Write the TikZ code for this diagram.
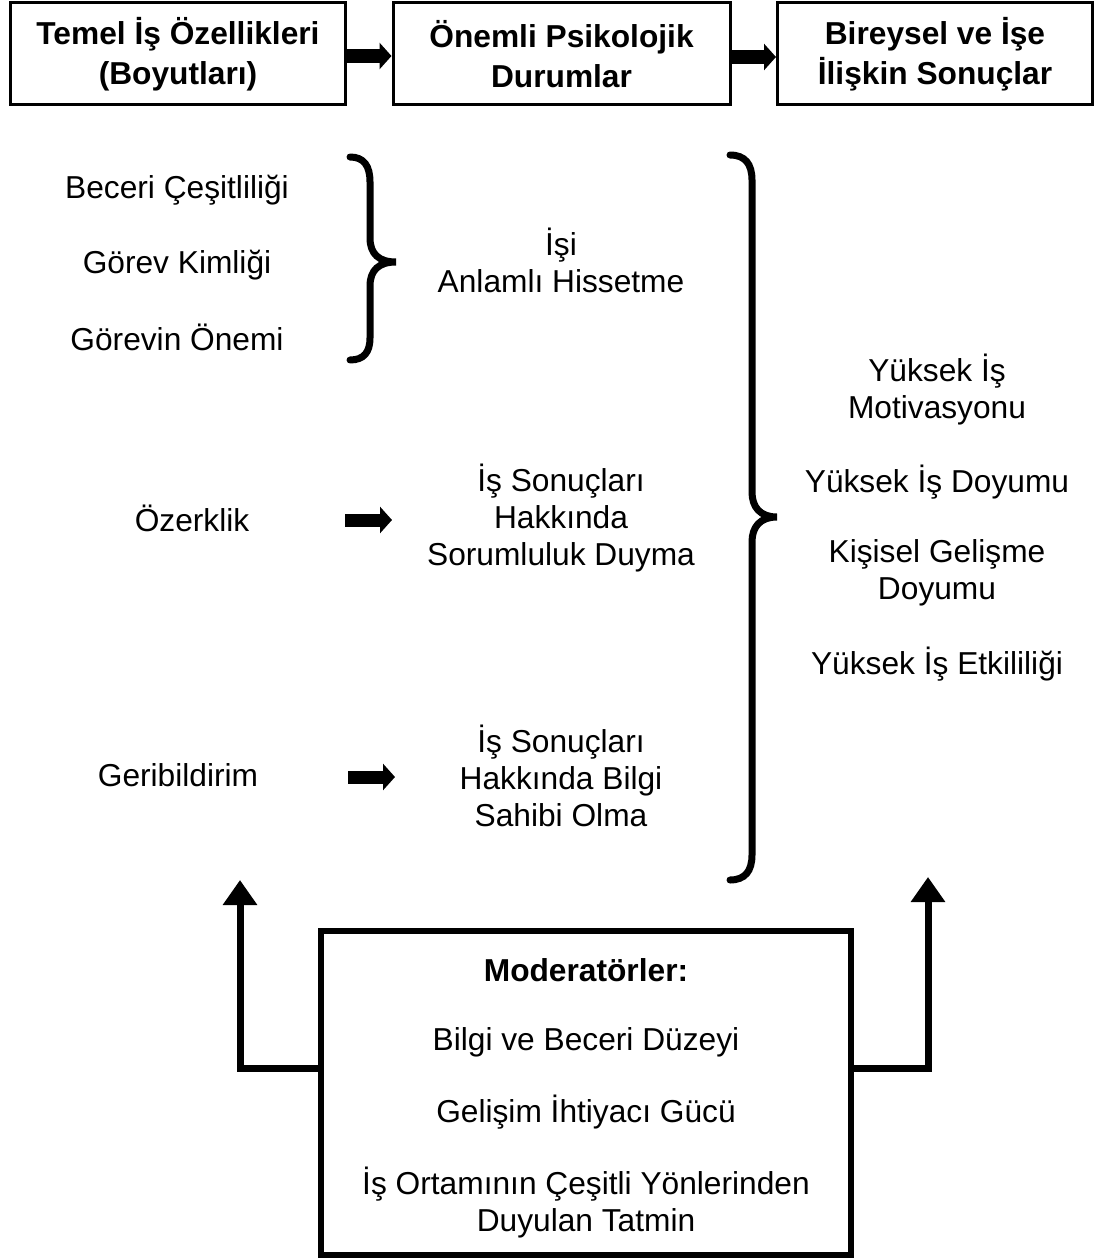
\documentclass[tikz,border=0pt]{standalone}
\usepackage{fontspec}
\setmainfont{Liberation Sans}
\usetikzlibrary{arrows.meta}
\begin{document}
\begin{tikzpicture}[x=1pt,y=-1pt,
  txt/.style={align=center, inner sep=0pt, font=\fontsize{31.7}{37}\selectfont},
  headbox/.style={draw, line width=3pt, align=center, inner sep=0pt,
    minimum height=102pt, font=\fontsize{31.7}{40}\selectfont\bfseries},
  blockarrow/.style={line width=14pt, -{Triangle[length=12pt,width=26pt]}},
  smallarrow/.style={line width=13pt, -{Triangle[length=12pt,width=26pt]}},
  bracepath/.style={line width=7pt, line cap=round},
  modline/.style={line width=7pt, -{Triangle[length=25pt,width=33pt]}},
]
\useasboundingbox (0,0) rectangle (1094,1260);

% header row
\node[headbox, minimum width=335pt] (h1) at (178,54) {Temel İş Özellikleri\\(Boyutları)};
\node[headbox, minimum width=337pt] (h2) at (561.5,54) {Önemli Psikolojik\\Durumlar};
\node[headbox, minimum width=315pt] (h3) at (935,54) {Bireysel ve İşe\\İlişkin Sonuçlar};
\draw[blockarrow] ([yshift=-2pt]h1.east) -- ([yshift=-2pt]h2.west);
\draw[blockarrow] ([yshift=-3pt]h2.east) -- ([yshift=-3pt]h3.west);

% core job dimensions
\node[txt] (bc) at (177,190) {Beceri Çeşitliliği};
\node[txt] (gk) at (177,265) {Görev Kimliği};
\node[txt] (go) at (177,337) {Görevin Önemi};
\node[txt] (oz) at (192,518) {Özerklik};
\node[txt] (gb) at (178,775) {Geribildirim};

% psychological states
\node[txt] (ah) at (561,260) {İşi\\Anlamlı Hissetme};
\node[txt] (sd) at (561,518) {İş Sonuçları\\Hakkında\\Sorumluluk Duyma};
\node[txt] (bs) at (561,776) {İş Sonuçları\\Hakkında Bilgi\\Sahibi Olma};

% outcomes
\node[txt] (ym) at (937,390) {Yüksek İş\\Motivasyonu};
\node[txt] (yd) at (937,482) {Yüksek İş Doyumu};
\node[txt] (kg) at (937,573) {Kişisel Gelişme\\Doyumu};
\node[txt] (ye) at (937,664) {Yüksek İş Etkililiği};

% small brace grouping the first three dimensions
\draw[bracepath] (350,157) .. controls (364,157) and (370,166) .. (370,182)
  -- (370,238) .. controls (370,254) and (379,262) .. (396,262)
  .. controls (379,262) and (370,270) .. (370,286)
  -- (370,338) .. controls (370,352) and (364,360) .. (350,360);

% large brace grouping the states
\draw[bracepath] (730,155) .. controls (745,155) and (752,164) .. (752,180)
  -- (752,492) .. controls (752,507) and (760,517) .. (777,517)
  .. controls (760,517) and (752,527) .. (752,542)
  -- (752,855) .. controls (752,871) and (745,880) .. (730,880);

% arrows from single dimensions to states
\coordinate (a1s) at (345,520);
\coordinate (a1e) at (392,520);
\coordinate (a2s) at (348,777);
\coordinate (a2e) at (395,777);
\draw[smallarrow] (a1s) -- (a1e);
\draw[smallarrow] (a2s) -- (a2e);

% moderators box
\node[draw, line width=6pt, minimum width=530pt, minimum height=324pt, inner sep=0pt] (mod) at (586,1093) {};
\node[txt, font=\fontsize{31.7}{37}\selectfont\bfseries] (mt) at (586,970) {Moderatörler:};
\node[txt] (m1) at (586,1042) {Bilgi ve Beceri Düzeyi};
\node[txt] (m2) at (586,1112) {Gelişim İhtiyacı Gücü};
\node[txt] (m3) at (586,1203) {İş Ortamının Çeşitli Yönlerinden\\Duyulan Tatmin};

\coordinate (upL) at (240,880);
\coordinate (upR) at (928,877);
\draw[modline] ([yshift=25pt]mod.west) -| (upL);
\draw[modline] ([yshift=25pt]mod.east) -| (upR);
\end{tikzpicture}
\end{document}
